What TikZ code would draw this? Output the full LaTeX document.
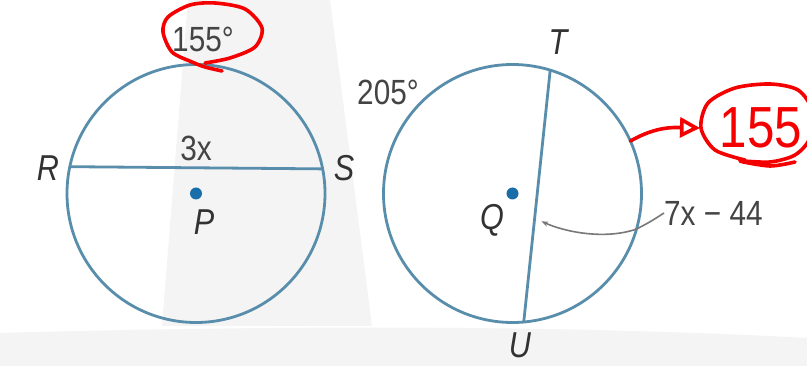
\documentclass[tikz,border=0pt]{standalone}
\usepackage{fontspec}
\setmainfont{Liberation Sans}
\newfontfamily\condf[FakeStretch=0.85]{Liberation Sans}
\usetikzlibrary{calc,arrows.meta}
\definecolor{circblue}{RGB}{88,142,172}
\definecolor{dotblue}{RGB}{25,110,170}
\definecolor{txtgray}{RGB}{68,68,68}
\definecolor{lettergray}{RGB}{50,50,50}
\definecolor{leadgray}{RGB}{120,120,120}
\definecolor{penred}{RGB}{245,0,0}
\definecolor{bggray}{RGB}{244,244,244}
\begin{document}
\begin{tikzpicture}[x=1pt,y=-1pt,
  ring/.style={circle, draw=circblue, line width=2.8pt, minimum size=258pt, inner sep=0pt, outer sep=0pt},
  chordline/.style={draw=circblue, line width=2.8pt},
  dot/.style={circle, fill=dotblue, minimum size=12pt, inner sep=0pt},
  letter/.style={font=\condf\itshape\fontsize{36}{40}\selectfont, text=lettergray, inner sep=0pt},
  num/.style={font=\condf\fontsize{35}{40}\selectfont, text=txtgray, inner sep=0pt},
  leader/.style={draw=leadgray, line width=1.6pt},
  pen/.style={draw=penred, line width=3.6pt, line cap=round, line join=round},
  pentext/.style={font=\condf\fontsize{58}{60}\selectfont, text=penred, inner sep=0pt}
]
\useasboundingbox (0,0) rectangle (807,366);
\fill[white] (0,0) rectangle (807,366);
% paper shading
\fill[bggray] (188,0) -- (330,0) -- (372,326) -- (162,326) -- cycle;
\fill[bggray] (0,333) .. controls (250,326) and (550,324) .. (807,338) -- (807,366) -- (0,366) -- cycle;

% left circle
\node[ring] (C1) at (196,193.5) {};
\coordinate (R) at (C1.168.6);
\coordinate (S) at (C1.11.4);
\draw[chordline] (R) -- (S);
\node[dot] (P) at (C1.center) {};
\node[letter] (Rl) at (48,168) {R};
\node[letter] (Sl) at (344,168) {S};
\node[letter] (Pl) at (204,222) {P};
\node[num] (len1) at (196,148) {3x};
\node[num] (ang1) at (203,39) {155°};

% right circle
\node[ring] (C2) at (512.5,193.5) {};
\coordinate (T) at (C2.73.2);
\coordinate (U) at (C2.-85.8);
\draw[chordline] (T) -- (U);
\node[dot] (Q) at (C2.center) {};
\node[letter] (Tl) at (558,42) {T};
\node[letter] (Ul) at (520,345) {U};
\node[letter] (Ql) at (492,220) {Q};
\node[num] (ang2) at (388,92) {205°};
\node[num, anchor=west] (len2) at (664,213) {7x − 44};

% leader to chord TU
\coordinate (tip) at ($(T)!0.6!(U)+(7,0)$);
\coordinate (cross) at (C2.-16.9);
\draw[leader, -{Stealth[length=7pt,width=5pt]}] (len2.west) .. controls (650,222) .. (cross) .. controls (605,240) and (565,232) .. (tip);

% red annotations
\draw[pen] plot[smooth] coordinates {(222,71) (205,67) (192,62) (172,52) (163,32) (168,17) (190,5) (215,3) (245,9) (262,28) (255,47) (230,58) (205,63)};
\coordinate (redstart) at (C2.24.5);
\coordinate (redend) at (700,128);
\draw[pen, -{Triangle[open, length=20pt, width=20pt, line width=3.6pt]}] (redstart) .. controls (650,130) and (665,127) .. (redend);
\draw[pen] plot[smooth] coordinates {(745,160) (715,150) (701,128) (708,103) (735,88) (770,84) (798,90) (812,110) (810,138) (795,155) (770,162) (740,161) (770,166) (795,162)};
\node[pentext] (red155) at (761,128) {155};
\end{tikzpicture}
\end{document}
